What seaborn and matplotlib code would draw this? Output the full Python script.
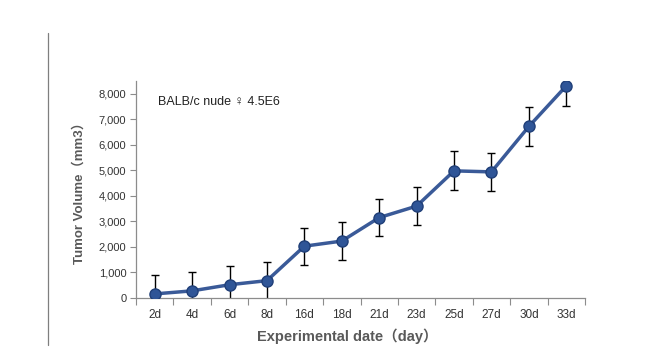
import matplotlib
matplotlib.use("Agg")
import matplotlib.pyplot as plt
from matplotlib.lines import Line2D
import seaborn as sns
import pandas as pd
import numpy as np

days = ["2d", "4d", "6d", "8d", "16d", "18d", "21d", "23d", "25d", "27d", "30d", "33d"]
volume = [160, 280, 520, 680, 2030, 2230, 3150, 3600, 4980, 4940, 6720, 8310]
err = [740, 740, 720, 730, 720, 750, 730, 750, 760, 740, 760, 780]
yticks = [0, 1000, 2000, 3000, 4000, 5000, 6000, 7000, 8000]

sns.set_theme(style="white")
plt.rcParams['font.family'] = ['Liberation Sans', 'DejaVu Sans', 'Noto Sans CJK SC']

df = pd.DataFrame({"day": days, "volume": volume})

fig = plt.figure(figsize=(6.45, 3.63), dpi=100)
ax = fig.add_axes([136/645, 1-298/363, 449/645, (298-81)/363])

x = np.arange(len(days))
ax.errorbar(x, volume, yerr=err, fmt="none", ecolor="black", elinewidth=1.0,
            capsize=3, capthick=1.0, zorder=2)
sns.lineplot(data=df, x="day", y="volume", sort=False, ax=ax, color="#3A5A98",
             linewidth=2.5, marker="o", markersize=8, markerfacecolor="#2F5597",
             markeredgecolor="#203F78", markeredgewidth=1.0, zorder=3)

ax.set_xlim(-0.5, len(days) - 0.5)
ax.set_ylim(0, 8500)
ax.set_yticks(yticks)
ax.set_yticklabels([f"{v:,}" for v in yticks])
ax.set_xticks(x)
ax.set_xticklabels(days)
ax.set_xticks(np.arange(-0.5, len(days), 1.0), minor=True)

for s in ["top", "right"]:
    ax.spines[s].set_visible(False)
for s in ["left", "bottom"]:
    ax.spines[s].set_color("#8C8C8C")
    ax.spines[s].set_linewidth(0.9)

ax.tick_params(axis="x", which="major", length=0, labelsize=8.5, colors="#333333", pad=8)
ax.tick_params(axis="x", which="minor", length=5, width=0.8, color="#8C8C8C", direction="out", bottom=True)
ax.tick_params(axis="y", which="major", length=4, width=0.8, color="#8C8C8C", direction="out",
               left=True, labelsize=8, labelcolor="#333333", pad=3)

lab_font = ['Liberation Sans', 'Noto Sans CJK SC']
ax.set_xlabel("Experimental date（day）", fontsize=10.5, fontweight="bold", color="#595959",
              family=lab_font)
ax.xaxis.set_label_coords(0.47, -0.14)
ax.set_ylabel("Tumor Volume（mm3）", fontsize=9.5, fontweight="bold", color="#595959",
              family=lab_font)
ax.yaxis.set_label_coords(-0.112, 0.5)

ax.text(0.05, 0.905, "BALB/c nude ♀ 4.5E6", transform=ax.transAxes, fontsize=9,
        color="#222222", va="center", ha="left", family=['Liberation Sans', 'DejaVu Sans'])

fig.add_artist(Line2D([48/645, 48/645], [1-33/363, 1-345/363], color="#7F7F7F", linewidth=0.9))

fig.savefig("out.png", dpi=100)
